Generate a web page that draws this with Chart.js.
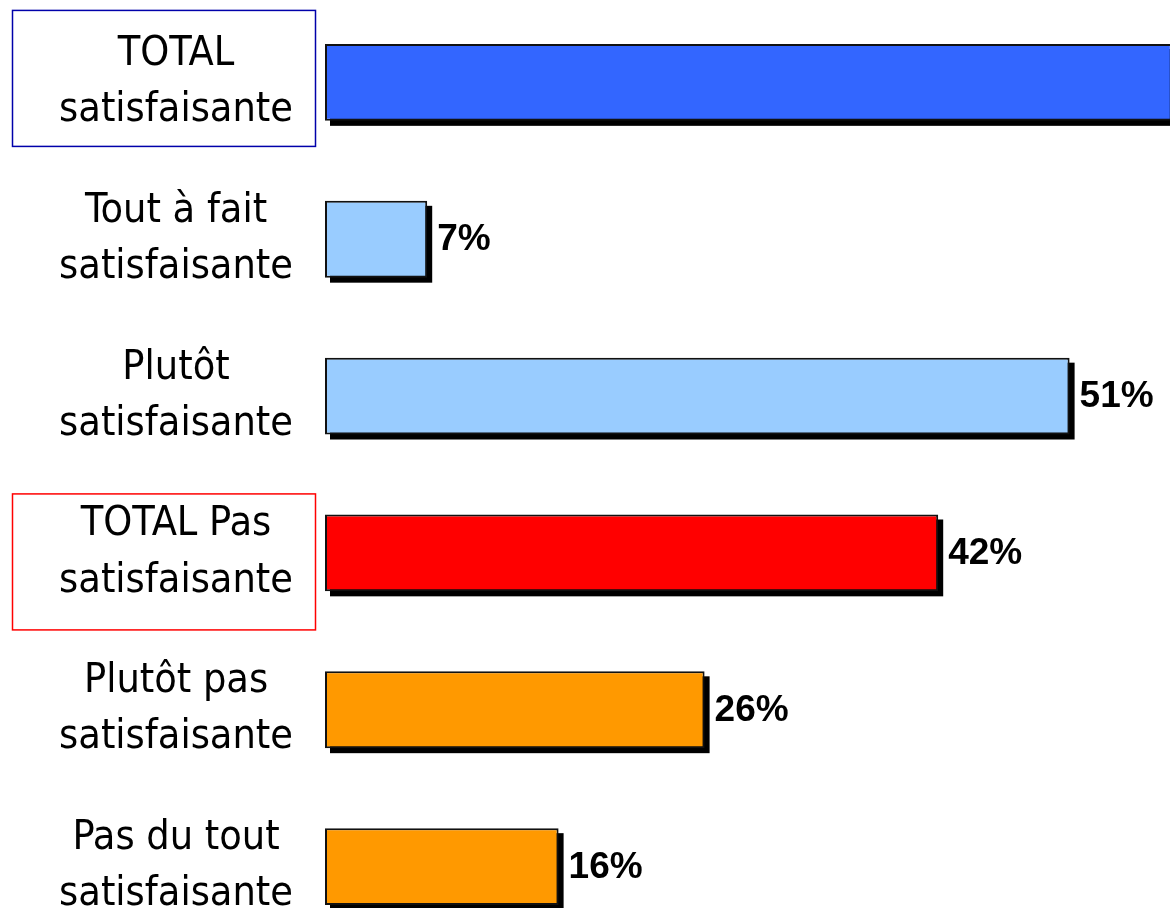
<!DOCTYPE html>
<html>
<head>
  <meta charset="UTF-8">
  <title>Satisfaction</title>
  <script src="https://cdn.jsdelivr.net/npm/chart.js"></script>
  <style>
    html, body { margin: 0; padding: 0; background: #fff; overflow: hidden; }
    #wrap { position: absolute; left: 0; top: 0; width: 1300px; height: 950px; }
  </style>
</head>
<body>
  <div id="wrap">
    <canvas id="chart" width="1300" height="950"></canvas>
  </div>

  <script>
    const categories = [
      ["TOTAL", "satisfaisante"],
      ["Tout à fait", "satisfaisante"],
      ["Plutôt", "satisfaisante"],
      ["TOTAL Pas", "satisfaisante"],
      ["Plutôt pas", "satisfaisante"],
      ["Pas du tout", "satisfaisante"]
    ];
    const values = [58, 7, 51, 42, 26, 16];
    const barColors = ["#3366FF", "#99CCFF", "#99CCFF", "#FF0000", "#FF9900", "#FF9900"];

    // black drop shadow behind every bar (bar element clips its own drawing, so paint it first)
    const shadowPlugin = {
      id: "barShadow",
      beforeDatasetsDraw(chart) {
        const ctx = chart.ctx;
        const meta = chart.getDatasetMeta(0);
        ctx.save();
        ctx.fillStyle = "#000";
        meta.data.forEach(bar => {
          const { x, y, base, height } = bar.getProps(["x", "y", "base", "height"], true);
          ctx.fillRect(base + 5, y - height / 2 + 5, x - base, height);
        });
        ctx.restore();
      }
    };

    // percent labels at the end of each bar
    const valueLabels = {
      id: "valueLabels",
      afterDatasetsDraw(chart) {
        const ctx = chart.ctx;
        const meta = chart.getDatasetMeta(0);
        ctx.save();
        ctx.font = "bold 37px 'Liberation Sans', Arial, sans-serif";
        ctx.fillStyle = "#000";
        ctx.textAlign = "left";
        ctx.textBaseline = "middle";
        meta.data.forEach((bar, i) => {
          ctx.fillText(values[i] + "%", bar.x + 10, bar.y + 1);
        });
        ctx.restore();
      }
    };

    // frames around the two TOTAL labels
    const totalBoxes = {
      id: "totalBoxes",
      afterDraw(chart) {
        const ctx = chart.ctx;
        const y = chart.scales.y;
        const boxes = [
          { index: 0, color: "#0000AA", top: -72, bottom: 64 },
          { index: 3, color: "#FF0000", top: -59, bottom: 77 }
        ];
        ctx.save();
        ctx.lineWidth = 1.5;
        boxes.forEach(b => {
          const cy = y.getPixelForValue(b.index);
          ctx.strokeStyle = b.color;
          ctx.strokeRect(12.5, cy + b.top, 303, b.bottom - b.top);
        });
        ctx.restore();
      }
    };

    new Chart(document.getElementById("chart").getContext("2d"), {
      type: "bar",
      data: {
        labels: categories,
        datasets: [{
          data: values,
          backgroundColor: barColors,
          borderColor: "#111",
          borderWidth: 2,
          borderSkipped: false,
          barPercentage: 0.98,
          categoryPercentage: 0.5
        }]
      },
      options: {
        indexAxis: "y",
        responsive: false,
        animation: false,
        events: [],
        layout: { padding: { left: 0, top: 4, bottom: 5, right: 99 } },
        plugins: {
          legend: { display: false },
          tooltip: { enabled: false }
        },
        scales: {
          x: {
            display: false,
            min: 0,
            max: 60
          },
          y: {
            grid: { display: false, drawTicks: false },
            border: { display: false },
            afterFit(scale) {
              scale.width = 325;
              scale.paddingTop = 0;
              scale.paddingBottom = 0;
            },
            ticks: {
              crossAlign: "center",
              padding: 32,
              color: "#000",
              font: {
                family: "'DejaVu Sans Condensed', 'DejaVu Sans', sans-serif",
                size: 41,
                lineHeight: 1.37
              }
            }
          }
        }
      },
      plugins: [shadowPlugin, valueLabels, totalBoxes]
    });
  </script>
</body>
</html>
